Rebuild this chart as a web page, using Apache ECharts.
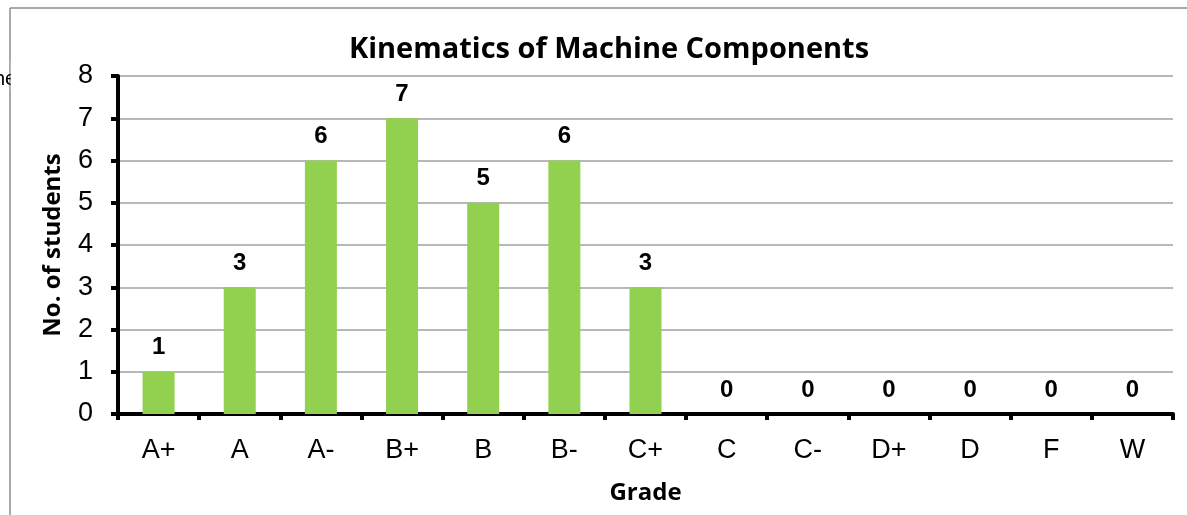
<!DOCTYPE html>
<html><head><meta charset="utf-8">
<script src="https://cdn.jsdelivr.net/npm/echarts@6/dist/echarts.min.js"></script>
<style>html,body{margin:0;padding:0;background:#fff}#c{width:1187px;height:515px}</style>
</head><body><div id="c"></div>
<script>
const categories = ['A+','A','A-','B+','B','B-','C+','C','C-','D+','D','F','W'];
const students = [1,3,6,7,5,6,3,0,0,0,0,0,0];
const yTicks = [0,1,2,3,4,5,6,7,8];

const chart = echarts.init(document.getElementById('c'), null, {renderer:'canvas'});
chart.setOption({
  animation:false,
  backgroundColor:'#fff',
  title:{text:'Kinematics of Machine Components',left:604,textAlign:'center',top:30,
    textStyle:{fontFamily:'Open Sans',fontWeight:'bold',fontSize:29,color:'#000'}},
  graphic:[
    {type:'line',shape:{x1:10,y1:8,x2:1187,y2:8},style:{stroke:'#8c8c8c',lineWidth:1.5}},
    {type:'line',shape:{x1:10,y1:8,x2:10,y2:515},style:{stroke:'#8c8c8c',lineWidth:1.5}},
    {type:'text',left:-6,top:69,style:{text:'he',font:'20px "Liberation Sans"',fill:'#000'}},
    {type:'rect',left:10.8,top:60,shape:{width:10,height:30},style:{fill:'#fff'}}
  ],
  grid:{left:118,right:14,top:76,bottom:101,containLabel:false},
  xAxis:{type:'category',data:categories,
    axisLine:{lineStyle:{color:'#000',width:4}},
    axisTick:{show:true,length:6,lineStyle:{color:'#000',width:4}},
    axisLabel:{color:'#000',fontFamily:'Liberation Sans',fontSize:27,margin:23},
    name:'Grade',nameLocation:'middle',nameGap:67,
    nameTextStyle:{fontFamily:'Open Sans',fontWeight:'bold',fontSize:24,color:'#000'}},
  yAxis:{type:'value',min:0,max:8,interval:1,
    axisLine:{show:true,lineStyle:{color:'#000',width:4}},
    axisTick:{show:true,length:7,lineStyle:{color:'#000',width:4}},
    axisLabel:{color:'#000',fontFamily:'Liberation Sans',fontSize:27,margin:25,
      formatter:v=>yTicks.includes(v)?String(v):''},
    splitLine:{show:true,lineStyle:{color:'#a0a0a0',width:1.5}},
    name:'No. of students',nameLocation:'middle',nameGap:53,
    nameTextStyle:{fontFamily:'Open Sans',fontWeight:'bold',fontSize:24,color:'#000'}},
  series:[{type:'bar',data:students,barWidth:32,
    itemStyle:{color:'#92D050'},
    label:{show:true,position:'top',distance:12,color:'#000',fontFamily:'Liberation Sans',fontWeight:'bold',fontSize:24}}]
});
</script></body></html>
